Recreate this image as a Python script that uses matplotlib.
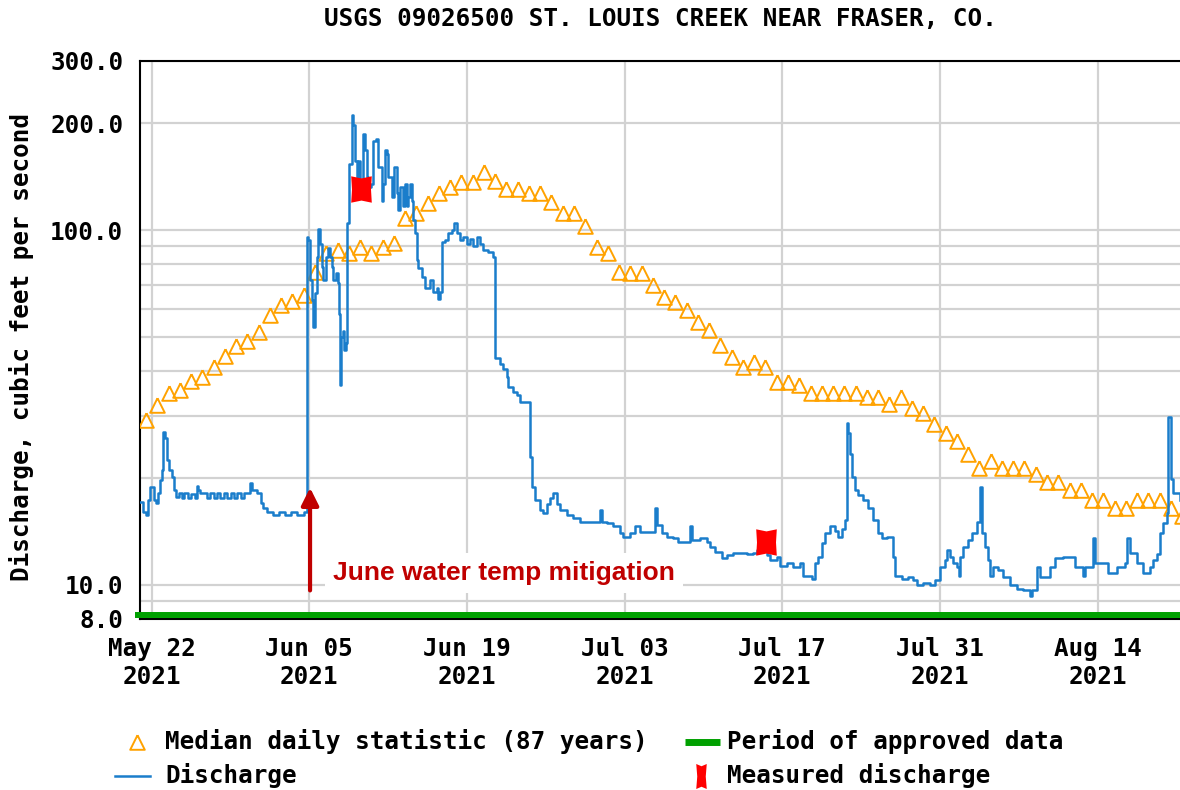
import numpy as np
import pandas as pd
import matplotlib
matplotlib.use('Agg')
import matplotlib.pyplot as plt
from matplotlib.lines import Line2D

start = pd.Timestamp('2021-05-21')

# median daily statistic (87 years), one value per day May 21 .. Aug 21
median_cfs = [29.1, 32.1, 34.7, 35.4, 37.5, 38.5, 41.1, 44.1, 47.1, 48.6,
              51.6, 57.6, 61.4, 63.1, 65.6, 76.1, 86.1, 87.8, 86.1, 89.6,
              86.1, 89.6, 91.9, 108, 112, 119, 127, 132, 137, 137,
              146, 138, 131, 131, 127, 127, 120, 112, 112, 103,
              89.6, 86.1, 76.1, 75.8, 75.8, 70.0, 64.7, 62.7, 59.5, 55.0,
              52.2, 47.4, 43.8, 41.1, 42.4, 41.1, 37.3, 37.3, 36.5, 34.7,
              34.7, 34.7, 34.7, 34.7, 33.8, 33.8, 32.3, 33.8, 31.5, 30.5,
              28.4, 26.8, 25.4, 23.3, 21.3, 22.3, 21.3, 21.3, 21.3, 20.5,
              19.5, 19.5, 18.5, 18.5, 17.3, 17.3, 16.5, 16.5, 17.3, 17.3,
              17.3, 16.4, 15.6]

# discharge: days since May 21 00:00, cfs
q_days = [0.00, 0.23, 0.49, 0.67, 0.85, 1.09, 1.20, 1.38, 1.56, 1.74,
          1.89, 2.03, 2.18, 2.33, 2.56, 2.78, 2.98, 3.16, 3.40, 3.70,
          3.90, 4.20, 4.50, 4.80, 5.00, 5.15, 5.30, 5.60, 5.90, 6.20,
          6.50, 6.80, 7.10, 7.40, 7.70, 8.00, 8.30, 8.60, 8.90, 9.20,
          9.73, 9.90, 10.32, 10.68, 10.91, 11.21, 11.80, 12.30, 12.80, 13.40,
          13.90, 14.50, 14.76, 14.91, 15.06, 15.21, 15.35, 15.50, 15.65, 15.79,
          15.94, 16.09, 16.24, 16.48, 16.68, 16.83, 16.98, 17.12, 17.36, 17.57,
          17.66, 17.72, 17.80, 17.95, 18.10, 18.22, 18.31, 18.55, 18.76, 18.90,
          19.05, 19.20, 19.35, 19.50, 19.79, 19.94, 20.09, 20.23, 20.44, 20.68,
          20.92, 21.12, 21.42, 21.56, 21.72, 21.87, 22.01, 22.31, 22.52, 22.75,
          22.90, 23.05, 23.34, 23.49, 23.64, 23.78, 23.93, 24.09, 24.23, 24.38,
          24.53, 24.67, 24.97, 25.27, 25.71, 26.00, 26.31, 26.45, 26.60, 26.75,
          27.04, 27.34, 27.64, 27.84, 28.08, 28.38, 28.67, 28.97, 29.26, 29.56,
          29.86, 30.15, 30.44, 30.89, 31.33, 31.50, 31.93, 32.22, 32.52, 32.67,
          33.11, 33.41, 33.70, 34.59, 34.74, 35.04, 35.48, 35.77, 36.07, 36.37,
          36.66, 36.96, 37.26, 37.85, 38.44, 39.03, 40.81, 40.96, 41.40, 41.99,
          42.58, 42.88, 43.47, 43.91, 44.36, 45.69, 45.84, 46.28, 46.73, 47.32,
          47.76, 48.80, 48.95, 49.69, 50.28, 50.57, 51.02, 51.61, 52.06, 52.64,
          53.24, 53.83, 54.42, 54.72, 55.61, 55.90, 56.50, 56.79, 57.38, 57.97,
          58.57, 58.86, 59.45, 59.60, 59.90, 60.19, 60.49, 60.79, 61.23, 61.67,
          61.97, 62.27, 62.56, 62.71, 62.86, 63.00, 63.16, 63.45, 63.74, 64.19,
          64.63, 65.08, 65.52, 65.82, 66.26, 66.71, 66.85, 67.00, 67.60, 68.18,
          68.63, 68.93, 69.51, 70.11, 70.55, 71.00, 71.44, 71.59, 71.89, 72.18,
          72.48, 72.71, 72.77, 73.07, 73.51, 73.81, 74.25, 74.55, 74.70, 74.99,
          75.29, 75.44, 75.73, 76.17, 76.62, 77.21, 77.81, 78.39, 78.99, 79.14,
          79.58, 79.88, 80.17, 80.76, 81.21, 81.94, 82.69, 82.98, 83.43, 83.72,
          83.87, 84.61, 84.76, 85.50, 85.94, 86.69, 87.42, 87.57, 87.87, 88.46,
          89.05, 89.64, 89.94, 90.24, 90.53, 90.82, 91.12, 91.27, 91.48, 91.71,
          92.30]
q_cfs = [17.1, 16.0, 15.7, 17.3, 18.8, 18.8, 17.3, 17.0, 18.1, 19.7,
         21.0, 26.9, 25.9, 22.4, 21.0, 20.1, 18.5, 17.7, 18.1, 17.6,
         18.1, 17.6, 18.0, 17.6, 19.0, 18.5, 18.1, 18.1, 17.6, 18.1,
         17.6, 18.1, 17.6, 18.1, 17.6, 18.1, 17.6, 18.1, 17.6, 18.1,
         19.3, 18.5, 18.1, 17.0, 16.4, 16.0, 15.7, 16.0, 15.7, 16.0,
         15.7, 16.0, 95.7, 93.8, 72.3, 63.4, 53.3, 66.5, 84.2, 101,
         91.6, 78.8, 72.3, 84.2, 88.9, 84.0, 78.8, 72.3, 75.6, 70.8,
         58.0, 36.5, 50.0, 52.0, 46.0, 48.0, 105, 154, 211, 198,
         157, 141, 157, 138, 187, 168, 141, 132, 135, 178,
         181, 151, 121, 135, 168, 164, 141, 124, 151, 127,
         114, 132, 117, 135, 117, 124, 135, 121, 107, 98,
         82.2, 78.4, 73.9, 68.8, 72.3, 67.0, 68.8, 64.0, 67.0, 92.7,
         93.8, 98, 100, 105, 98, 93.8, 95.7, 91.6, 94.5, 90,
         95.7, 91.6, 88.0, 87.0, 84.2, 43.5, 42.0, 40.7, 38.5, 36.1,
         35.0, 34.2, 32.8, 22.9, 18.9, 17.3, 16.2, 15.9, 16.9, 17.5,
         18.1, 16.9, 16.2, 15.7, 15.4, 15.0, 16.2, 15.0, 14.9, 14.6,
         14.0, 13.6, 14.0, 14.6, 14.1, 16.4, 14.7, 14.0, 13.6, 13.5,
         13.2, 14.6, 13.4, 13.5, 13.2, 12.8, 12.4, 11.9, 12.1, 12.3,
         12.3, 12.2, 12.3, 12.5, 12.1, 11.7, 12.0, 11.3, 11.5, 11.2,
         11.5, 10.6, 10.6, 10.4, 11.5, 12.0, 13.1, 14.0, 14.6, 14.2,
         13.6, 14.4, 15.2, 28.5, 26.7, 23.4, 20.1, 18.5, 17.9, 17.3,
         16.4, 15.2, 14.0, 13.5, 13.6, 13.6, 12.0, 10.6, 10.4, 10.5,
         10.3, 9.97, 10.1, 9.97, 10.3, 11.2, 11.7, 12.5, 12.0, 11.5,
         11.2, 10.6, 12.0, 12.8, 13.4, 14.0, 15.0, 18.9, 14.0, 12.8,
         11.7, 10.6, 11.2, 11.0, 10.5, 10.0, 9.75, 9.64, 9.3, 9.64,
         11.2, 10.5, 10.5, 11.2, 11.9, 12.0, 12.0, 11.2, 11.2, 10.6,
         11.2, 13.5, 11.5, 11.5, 10.8, 11.2, 11.5, 13.5, 12.3, 11.5,
         10.8, 11.2, 11.7, 12.2, 14.0, 14.9, 15.9, 29.7, 19.8, 18.1,
         17.3]

# field measurements
meas_days = [19.54, 55.55]
meas_cfs = [131, 13.2]

tick_days = [1, 15, 29, 43, 57, 71, 85]
tick_labels = ['May 22\n2021', 'Jun 05\n2021', 'Jun 19\n2021', 'Jul 03\n2021',
               'Jul 17\n2021', 'Jul 31\n2021', 'Aug 14\n2021']
ytick_vals = [8, 10, 100, 200, 300]
yminor_vals = [9, 20, 30, 40, 50, 60, 70, 80, 90]

arrow_day = 15.06
note_day = 17.1

# ---- styling ----
MONO = 'DejaVu Sans Mono'
FS = 17.5
ORANGE = '#ffa200'
BLUE = '#1a7dcb'
GREEN = '#00a000'
DARKRED = '#c00000'
GRID = '#d2d2d2'

tri = [(0, 1), (-1, -1), (1, -1), (0, 1)]
meas_mark = [(-0.78, -1), (0, -0.84), (0.78, -1), (0.72, 0), (0.78, 1),
             (0, 0.84), (-0.78, 1), (-0.72, 0), (-0.78, -1)]
meas_leg = [(-0.42, -1), (0, -0.82), (0.42, -1), (0.34, 0), (0.42, 1),
            (0, 0.82), (-0.42, 1), (-0.34, 0), (-0.42, -1)]

W, H = 1180, 790
fig = plt.figure(figsize=(W / 100, H / 100), dpi=100)
ax = fig.add_axes([140 / W, 1 - 619 / H, (W - 140) / W, (619 - 61) / H])

day = lambda d: start + pd.to_timedelta(d, unit='D')
median_dates = start + pd.to_timedelta(np.arange(len(median_cfs)) + 0.5, unit='D')
q_dates = start + pd.to_timedelta(q_days, unit='D')
meas_dates = start + pd.to_timedelta(meas_days, unit='D')

ax.plot(median_dates, median_cfs, linestyle='none', marker=tri, markersize=10.5,
        markerfacecolor='none', markeredgecolor=ORANGE, markeredgewidth=1.4, zorder=3)
ax.plot(q_dates, q_cfs, color=BLUE, lw=1.8, drawstyle='steps-post', zorder=4)
ax.plot(meas_dates, meas_cfs, linestyle='none', marker=meas_mark, markersize=19,
        color='#ff0000', markeredgewidth=0, zorder=5)

# approved-data bar along the bottom
ax.plot([-0.005, 1], [8.23, 8.23], transform=ax.get_yaxis_transform(),
        color=GREEN, lw=4.3, solid_capstyle='butt', clip_on=False, zorder=6)

ax.set_yscale('log')
ax.set_ylim(8, 300)
ax.set_xlim(day(-0.04), day(92.31))
ax.set_yticks(ytick_vals)
ax.set_yticklabels(['%.1f' % v for v in ytick_vals])
ax.set_yticks(yminor_vals, minor=True)
ax.yaxis.set_minor_formatter(matplotlib.ticker.NullFormatter())
ax.set_xticks([day(d) for d in tick_days])
ax.set_xticklabels(tick_labels, linespacing=1.2)
ax.grid(True, which='both', color=GRID, lw=1.6)
ax.set_axisbelow(True)
ax.tick_params(which='both', length=0)
ax.tick_params(axis='y', pad=12)
ax.tick_params(axis='x', pad=13)
for lab in ax.get_xticklabels() + ax.get_yticklabels():
    lab.set_fontfamily(MONO)
    lab.set_fontweight('bold')
    lab.set_fontsize(FS)
for s in ['left', 'top', 'bottom']:
    ax.spines[s].set_linewidth(1.5)
    ax.spines[s].set_color('black')
ax.spines['right'].set_visible(False)

# annotation
ax.annotate('', xy=(day(arrow_day), 19.1), xytext=(day(arrow_day), 9.46),
            arrowprops=dict(arrowstyle='-|>', color=DARKRED, lw=3, mutation_scale=26),
            zorder=7)
ax.text(day(note_day), 10.77, 'June water temp mitigation', color=DARKRED,
        fontsize=19, fontweight='bold', family='Liberation Sans', va='center',
        bbox=dict(boxstyle='square,pad=0.3', facecolor='white', edgecolor='none'),
        zorder=2)

fig.text(660 / W, 1 - 19 / H, 'USGS 09026500 ST. LOUIS CREEK NEAR FRASER, CO.',
         family=MONO, fontweight='bold', fontsize=FS, ha='center', va='center')
fig.text(22 / W, 1 - 347 / H, 'Discharge, cubic feet per second', rotation=90,
         family=MONO, fontweight='bold', fontsize=FS, ha='center', va='center')

# legend drawn by hand, figure pixel positions
tf = fig.transFigure
px = lambda x, y: (x / W, 1 - y / H)
fig.add_artist(Line2D([px(137, 742)[0]], [px(137, 742)[1]], transform=tf, marker=tri,
                      markersize=10.5, markerfacecolor='none', markeredgecolor=ORANGE,
                      markeredgewidth=1.4, linestyle='none'))
fig.add_artist(Line2D([115 / W, 150 / W], [px(0, 776)[1]] * 2, transform=tf,
                      color=BLUE, lw=1.8))
fig.add_artist(Line2D([685 / W, 720 / W], [px(0, 742)[1]] * 2, transform=tf,
                      color=GREEN, lw=5, solid_capstyle='butt'))
fig.add_artist(Line2D([px(701, 776)[0]], [px(701, 776)[1]], transform=tf, marker=meas_leg,
                      markersize=18, color='#ff0000', markeredgewidth=0, linestyle='none'))
legend_items = [(165, 742, 'Median daily statistic (87 years)'),
                (165, 776, 'Discharge'),
                (727, 742, 'Period of approved data'),
                (727, 776, 'Measured discharge')]
for x, y, txt in legend_items:
    fig.text(*px(x, y), txt, family=MONO, fontweight='bold', fontsize=FS,
             ha='left', va='center')

fig.savefig('out.png', dpi=100)
